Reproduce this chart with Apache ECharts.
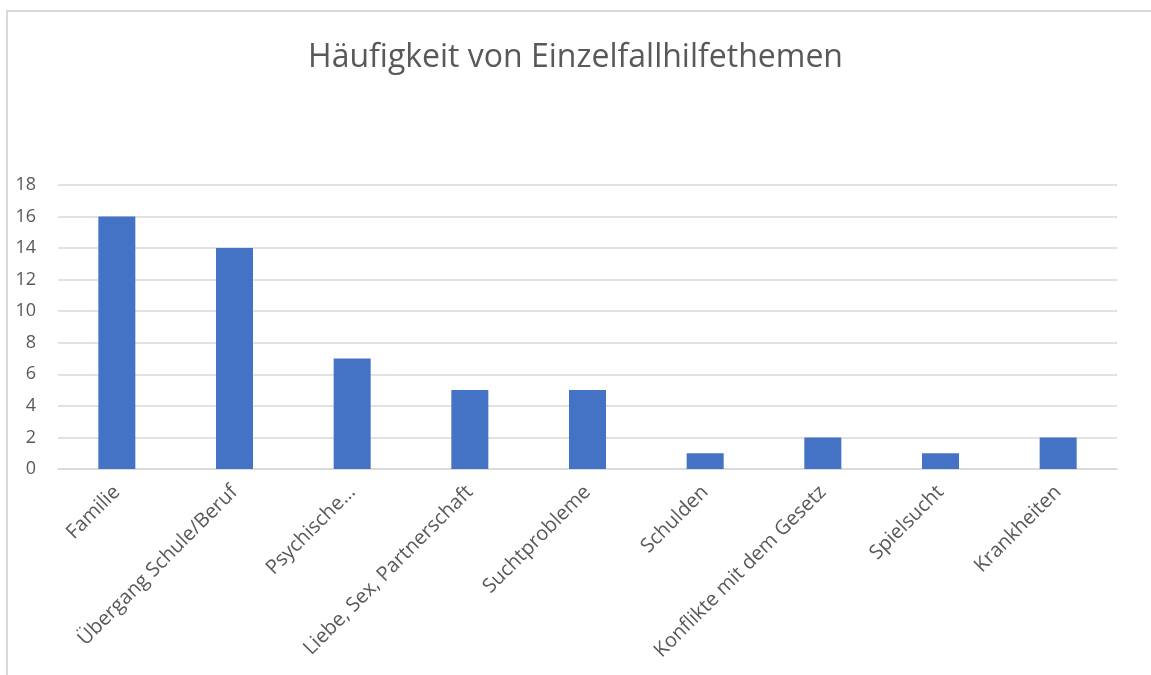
<!DOCTYPE html>
<html lang="de">
<head>
    <meta charset="UTF-8">
    <title>Häufigkeit von Einzelfallhilfethemen</title>
    <script src="https://cdn.jsdelivr.net/npm/echarts@6.0.0/dist/echarts.min.js"></script>
    <style>
        html, body { margin: 0; padding: 0; background: #fff; }
        #chart { width: 1151px; height: 675px; }
    </style>
</head>
<body>
    <div id="chart"></div>
    <script>
        // Daten
        var categories = ['Familie', 'Übergang Schule/Beruf', 'Psychische…', 'Liebe, Sex, Partnerschaft',
            'Suchtprobleme', 'Schulden', 'Konflikte mit dem Gesetz', 'Spielsucht', 'Krankheiten'];
        var values = [16, 14, 7, 5, 5, 1, 2, 1, 2];
        var yTicks = [0, 2, 4, 6, 8, 10, 12, 14, 16, 18];

        var textColor = '#595959';
        var lineColor = '#d9d9d9';
        var font = '"Open Sans", "Noto Sans", sans-serif';

        var chart = echarts.init(document.getElementById('chart'));
        chart.setOption({
            animation: false,
            title: {
                text: 'Häufigkeit von Einzelfallhilfethemen',
                left: 'center',
                top: 37,
                textStyle: { color: textColor, fontSize: 32, fontWeight: 'normal', fontFamily: font }
            },
            graphic: [{
                type: 'rect',
                shape: { x: 7, y: 11, width: 1300, height: 800 },
                style: { fill: 'none', stroke: lineColor, lineWidth: 2 }
            }],
            grid: { left: 58, right: 34, top: 185, bottom: 206 },
            xAxis: {
                type: 'category',
                data: categories,
                axisLine: { lineStyle: { color: lineColor, width: 1.5 } },
                axisTick: { show: false },
                axisLabel: {
                    rotate: 45, interval: 0, margin: 20,
                    color: textColor, fontSize: 20, fontFamily: font
                }
            },
            yAxis: {
                type: 'value',
                min: yTicks[0],
                max: yTicks[yTicks.length - 1],
                interval: 2,
                axisLine: { show: false },
                axisTick: { show: false },
                splitLine: { lineStyle: { color: lineColor, width: 1.5 } },
                axisLabel: { color: textColor, fontSize: 18, fontFamily: font, margin: 22 }
            },
            series: [{
                type: 'bar',
                data: values,
                barWidth: 37,
                itemStyle: { color: '#4472c4' }
            }]
        });
    </script>
</body>
</html>
